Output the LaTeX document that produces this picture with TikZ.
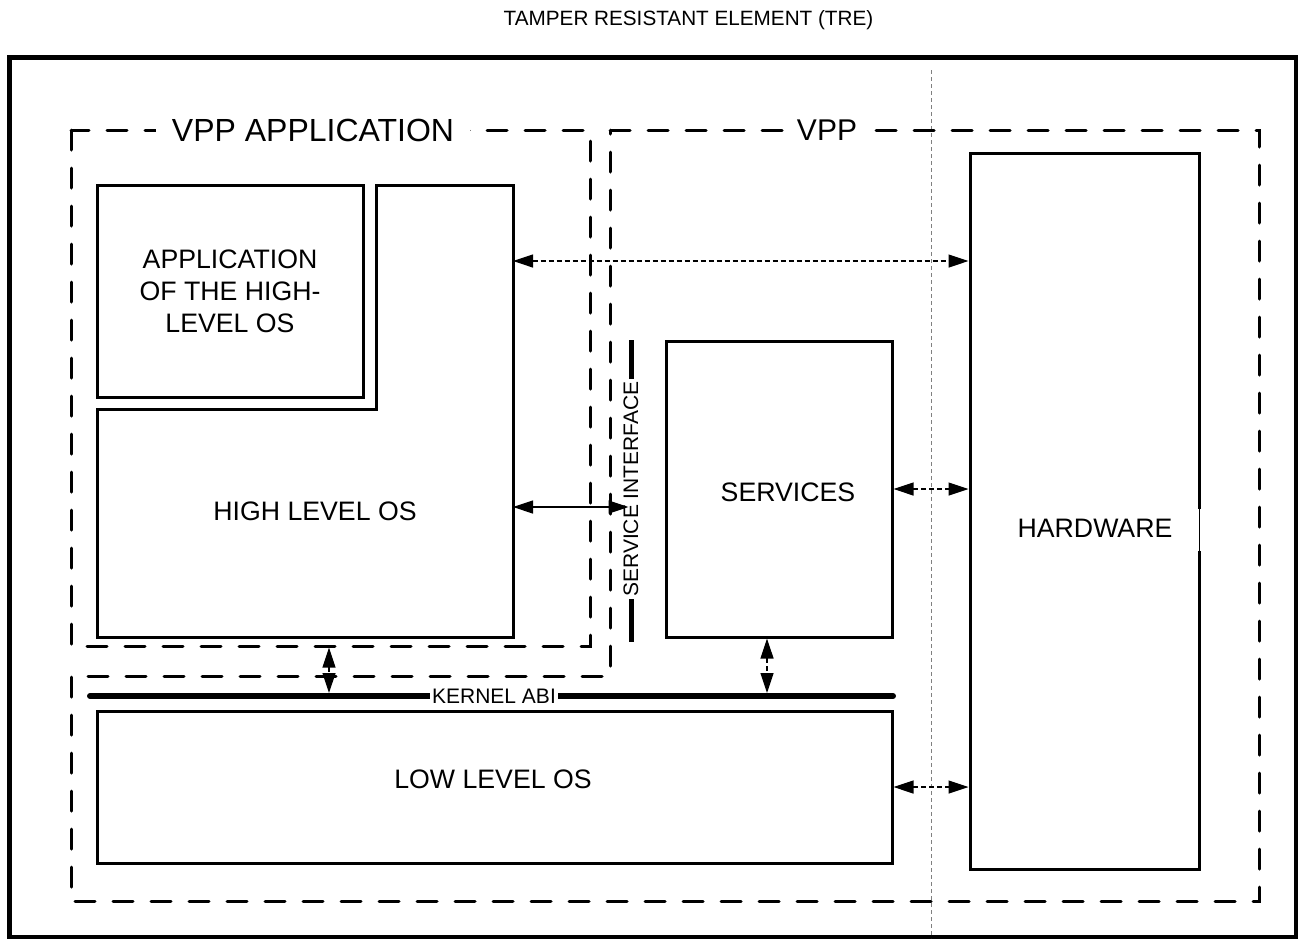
\documentclass[tikz,border=0pt]{standalone}
\usepackage{fontspec}
\setmainfont{Liberation Sans}
\usetikzlibrary{arrows.meta,calc}
\begin{document}
\begin{tikzpicture}[x=1pt,y=-1pt,
  box/.style={draw, line width=3pt, inner sep=0pt},
  dashbox/.style={draw, line width=3pt, dash pattern=on 20pt off 18pt, line cap=round},
  lbl/.style={font=\fontsize{26.7}{32}\selectfont, align=center},
  biglbl/.style={font=\fontsize{30}{34}\selectfont, fill=white, inner sep=6pt},
  smalllbl/.style={font=\fontsize{21}{24}\selectfont, fill=white, inner sep=2pt},
  dtip/.style={{Triangle[length=20pt,width=13pt]}-{Triangle[length=20pt,width=13pt]}},
  link/.style={dtip, line width=1.2pt, dash pattern=on 5pt off 3pt},
  solidlink/.style={dtip, line width=1.2pt},
  sep/.style={draw=gray, line width=1pt, dash pattern=on 4pt off 3pt}
]
\useasboundingbox (0,0) rectangle (1298,938);
% outer frame
\draw[line width=5pt] (9.5,57) rectangle (1296,937);
\node[font=\fontsize{20.7}{24}\selectfont] (title) at (688.5,20) {TAMPER RESISTANT ELEMENT (TRE)};
% separator
\coordinate (sepA) at (931,70);
\coordinate (sepB) at (931,938);
\draw[sep] (sepA) -- (sepB);
% dashed regions
\draw[dashbox] (610,130) -- (1259,130) -- (1259,901) -- (71,901) -- (71,676) -- (610,676) -- cycle;
\draw[dashbox] (71,130) rectangle (590,646);
\node[biglbl, font=\fontsize{32}{36}\selectfont, inner xsep=16pt] (vppapp) at (313,130) {VPP APPLICATION};
\node[biglbl, inner sep=4pt] (vpp) at (827,130) {VPP};
% boxes
\node[box, lbl, minimum width=266pt, minimum height=212pt] (app) at (230,291) {APPLICATION\\OF THE HIGH-\\LEVEL OS};
\draw[line width=3pt] (97,409) -- (376,409) -- (376,185) -- (513,185) -- (513,637) -- (97,637) -- cycle;
\node[lbl] (hlos) at (315,511) {HIGH LEVEL OS};
\node[box, minimum width=226pt, minimum height=296pt] (serv) at (779,489) {};
\node[lbl] (servtxt) at (788,492) {SERVICES};
\node[box, minimum width=229pt, minimum height=716pt] (hw) at (1084.5,511) {};
\node[lbl] (hwtxt) at (1095,528) {HARDWARE};
\fill[white] (1196,509) rectangle (1202,551);
\draw[line width=1pt] (1199,509) -- (1199,551);
\node[box, minimum width=795pt, minimum height=152pt] (low) at (494.5,787) {};
\node[lbl] (lowtxt) at (493,779) {LOW LEVEL OS};
% kernel ABI
\coordinate (kabiL) at (90,696);
\coordinate (kabiR) at (893,696);
\draw[line width=6pt, line cap=round] (kabiL) -- (kabiR);
\node[smalllbl] (kabi) at (494,696) {KERNEL ABI};
% service interface
\coordinate (siT) at (631,340);
\coordinate (siB) at (631,642);
\draw[line width=5pt] (siT) -- (siB);
\node[smalllbl, rotate=90] (si) at (631,489) {SERVICE INTERFACE};
% connectors
\coordinate (hlA) at (513,261);
\coordinate (hlB) at (513,507);
\coordinate (siL) at (628.5,507);
\coordinate (vaB) at (329,647.5);
\coordinate (kA) at (329,693);
\coordinate (svB) at (767,638.5);
\coordinate (kB) at (767,693);
\draw[link] (hlA) -- (hw.west |- hlA);
\draw[solidlink] (hlB) -- (siL);
\draw[link] (serv.east) -- (hw.west |- serv.east);
\draw[link] (low.east) -- (hw.west |- low.east);
\draw[link] (vaB) -- (kA);
\draw[link] (svB) -- (kB);
\end{tikzpicture}
\end{document}
